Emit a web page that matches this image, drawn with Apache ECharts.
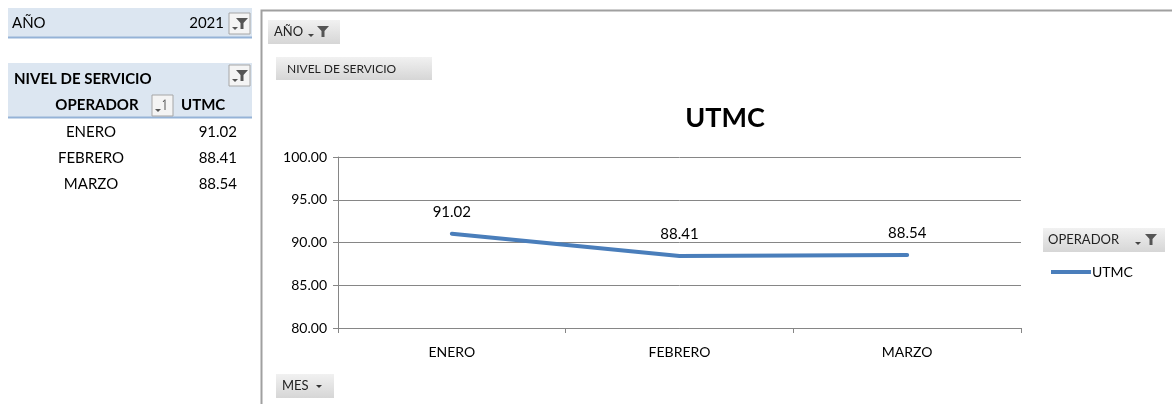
<!DOCTYPE html>
<html>
<head>
<meta charset="utf-8">
<script src="https://cdn.jsdelivr.net/npm/echarts@6/dist/echarts.min.js"></script>
<style>
  html, body { margin: 0; padding: 0; background: #fff; }
  #main { width: 1172px; height: 404px; }
</style>
</head>
<body>
<div id="main"></div>
<script>
// datos de la tabla dinámica
var anio = '2021';
var meses = ['ENERO', 'FEBRERO', 'MARZO'];
var utmc = [91.02, 88.41, 88.54];
var yTicks = [80, 85, 90, 95, 100];

var FONT = 'Lato, "Open Sans", sans-serif';
var myChart = echarts.init(document.getElementById('main'));

// embudo de filtro
function embudo(x, y, color) {
    return {
        type: 'polygon',
        shape: {points: [[x, y], [x + 12, y], [x + 7.5, y + 5], [x + 7.5, y + 11], [x + 4.5, y + 11], [x + 4.5, y + 5]]},
        style: {fill: color}
    };
}
function flechita(x, y, color) {
    return {
        type: 'polygon',
        shape: {points: [[x, y], [x + 6, y], [x + 3, y + 3]]},
        style: {fill: color}
    };
}
function boton(x, y, w, h) {
    return {
        type: 'rect',
        shape: {x: x, y: y, width: w, height: h},
        style: {
            fill: new echarts.graphic.LinearGradient(0, 0, 0, 1, [
                {offset: 0, color: '#f1f1f1'},
                {offset: 1, color: '#d6d6d6'}
            ])
        }
    };
}
function txt(x, y, s, opt) {
    opt = opt || {};
    return {
        type: 'text',
        x: x, y: y,
        style: {
            text: s,
            fill: opt.color || '#000',
            font: (opt.bold ? 'bold ' : '') + (opt.size || 15) + 'px ' + FONT,
            textAlign: opt.align || 'left',
            textVerticalAlign: 'middle'
        }
    };
}
function filtroCaja(x, y) {
    return [
        {type: 'rect', shape: {x: x, y: y, width: 21, height: 21},
            style: {fill: '#f4f4f4', stroke: '#a6a6a6', lineWidth: 1}},
        embudo(x + 7, y + 5, '#555'),
        flechita(x + 3, y + 14, '#555')
    ];
}

var graficos = [];
// tabla izquierda
graficos.push({type: 'rect', shape: {x: 8, y: 8, width: 244, height: 29}, style: {fill: '#dce6f1'}});
graficos.push({type: 'line', shape: {x1: 8, y1: 37.5, x2: 252, y2: 37.5}, style: {stroke: '#95b3d7', lineWidth: 2}});
graficos.push(txt(12, 23, 'AÑO'));
graficos.push(txt(224, 23, anio, {align: 'right'}));
graficos = graficos.concat(filtroCaja(229, 13));

graficos.push({type: 'rect', shape: {x: 8, y: 63, width: 244, height: 54}, style: {fill: '#dce6f1'}});
graficos.push({type: 'line', shape: {x1: 8, y1: 117.5, x2: 252, y2: 117.5}, style: {stroke: '#95b3d7', lineWidth: 2}});
graficos.push(txt(14, 79, 'NIVEL DE SERVICIO', {bold: true}));
graficos = graficos.concat(filtroCaja(229, 65));
graficos.push(txt(97, 105, 'OPERADOR', {bold: true, align: 'center'}));
graficos.push({type: 'rect', shape: {x: 152, y: 95, width: 21, height: 21}, style: {fill: '#f4f4f4', stroke: '#a6a6a6', lineWidth: 1}});
graficos.push(flechita(155, 109, '#555'));
graficos.push({type: 'line', shape: {x1: 165, y1: 100, x2: 165, y2: 110}, style: {stroke: '#555', lineWidth: 1}});
graficos.push({type: 'line', shape: {x1: 163, y1: 102, x2: 165, y2: 99.5}, style: {stroke: '#555', lineWidth: 1}});
graficos.push(txt(181, 105, 'UTMC', {bold: true}));
for (var i = 0; i < meses.length; i++) {
    graficos.push(txt(91, 132 + i * 26, meses[i], {align: 'center'}));
    graficos.push(txt(237, 132 + i * 26, utmc[i].toFixed(2), {align: 'right'}));
}

// marco del gráfico
graficos.push({type: 'polyline', shape: {points: [[261.5, 404], [261.5, 10.5], [1172, 10.5]]},
    style: {stroke: '#a0a0a0', lineWidth: 2, fill: null}});

// botones del gráfico dinámico
graficos.push(boton(268, 20, 72, 24));
graficos.push(txt(274, 32, 'AÑO', {size: 13, color: '#222'}));
graficos.push(flechita(308, 34, '#444'));
graficos.push(embudo(317, 26, '#555'));
graficos.push(boton(276, 57, 156, 23));
graficos.push(txt(287, 69, 'NIVEL DE SERVICIO', {size: 12, color: '#222'}));
graficos.push(boton(276, 374, 58, 24));
graficos.push(txt(282, 386, 'MES', {size: 13, color: '#222'}));
graficos.push(flechita(316, 385, '#333'));
graficos.push(boton(1043, 228, 122, 24));
graficos.push(txt(1048, 240, 'OPERADOR', {size: 13, color: '#222'}));
graficos.push(flechita(1135, 242, '#444'));
graficos.push(embudo(1145, 234, '#555'));

option = {
    animation: false,
    title: {
        text: 'UTMC',
        left: 720,
        top: 100,
        textAlign: 'center',
        textStyle: {fontFamily: FONT, fontSize: 27, fontWeight: 'bold', color: '#000'}
    },
    legend: {
        data: ['UTMC'],
        left: 1046,
        top: 260,
        itemWidth: 40,
        itemHeight: 4,
        itemGap: 0,
        icon: 'rect',
        textStyle: {fontFamily: FONT, fontSize: 14, color: '#000', padding: [0, 0, 0, -4]}
    },
    grid: {left: 338, right: 151, top: 157, bottom: 76, containLabel: false},
    xAxis: {
        type: 'category',
        data: meses,
        boundaryGap: true,
        axisLine: {show: true, lineStyle: {color: '#868686'}},
        axisTick: {show: true, length: 5, inside: false, lineStyle: {color: '#868686'}},
        axisLabel: {fontFamily: FONT, fontSize: 14, color: '#000', margin: 17}
    },
    yAxis: {
        type: 'value',
        min: yTicks[0],
        max: yTicks[yTicks.length - 1],
        interval: 5,
        axisLine: {show: true, lineStyle: {color: '#868686'}},
        axisTick: {show: true, length: 5, lineStyle: {color: '#868686'}},
        splitLine: {show: true, lineStyle: {color: '#868686', width: 1}},
        axisLabel: {
            fontFamily: FONT, fontSize: 14, color: '#000', margin: 11,
            formatter: function (v) { return v.toFixed(2); }
        }
    },
    series: [
        {
            name: 'UTMC',
            type: 'line',
            data: utmc,
            symbol: 'circle',
            symbolSize: 1,
            itemStyle: {color: '#4a7ebb'},
            lineStyle: {width: 4, color: '#4a7ebb', cap: 'round', join: 'round'},
            label: {
                show: true,
                position: 'top',
                distance: 14,
                fontFamily: FONT,
                fontSize: 15,
                color: '#000',
                formatter: function (p) { return p.value.toFixed(2); }
            }
        }
    ],
    graphic: graficos
};
myChart.setOption(option);
</script>
</body>
</html>
